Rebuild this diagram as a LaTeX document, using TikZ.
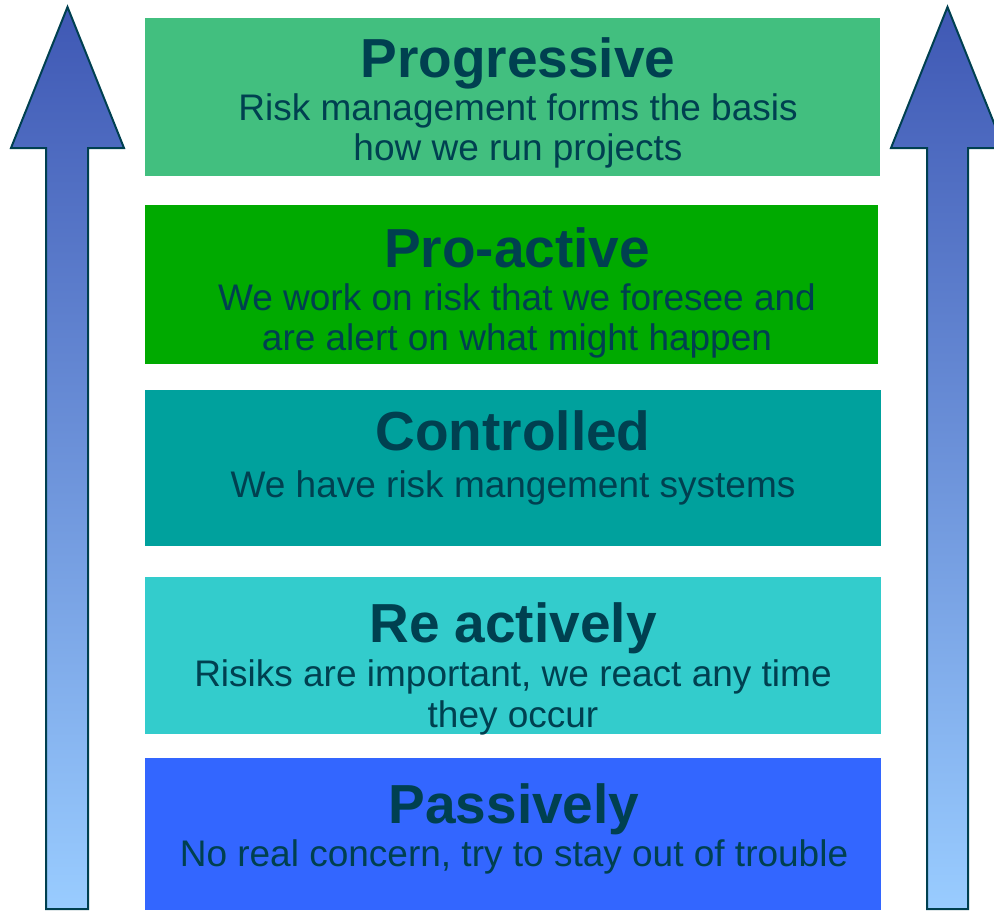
\documentclass[tikz,border=0pt]{standalone}
\usepackage{fontspec}
\setmainfont{Liberation Sans}
\definecolor{txt}{HTML}{004050}
\definecolor{cA}{HTML}{42BF7F}
\definecolor{cB}{HTML}{00AA00}
\definecolor{cC}{HTML}{00A19D}
\definecolor{cD}{HTML}{33CCCC}
\definecolor{cE}{HTML}{3366FF}
\definecolor{arTop}{HTML}{3F58B4}
\definecolor{arBot}{HTML}{99CCFF}
\tikzset{
  level/.style={draw=none, inner sep=0pt, outer sep=0pt},
  ttl/.style={anchor=base, inner sep=0pt, text=txt, font=\fontsize{55}{60}\selectfont\bfseries},
  dsc/.style={anchor=base, inner sep=0pt, text=txt, font=\fontsize{37}{41}\selectfont},
  uparrow/.style={draw=txt, line width=2pt, line join=miter, top color=arTop, bottom color=arBot}
}
\begin{document}
\begin{tikzpicture}[x=1pt,y=-1pt]
\useasboundingbox (0,0) rectangle (994,911);
% arrows
\path[uparrow] (67.5,7) -- (124,148) -- (88,148) -- (88,909) -- (46,909) -- (46,148) -- (11,148) -- cycle;
\path[uparrow] (947.5,7) -- (1004,148) -- (968,148) -- (968,909) -- (927,909) -- (927,148) -- (891,148) -- cycle;
% boxes
\fill[cA] (145,18) rectangle (880,176);
\fill[cB] (145,205) rectangle (878,364);
\fill[cC] (145,390) rectangle (881,546);
\fill[cD] (145,577) rectangle (881,734);
\fill[cE] (145,758) rectangle (881,910);
% texts
\node[ttl] (t1) at (518,77) {Progressive};
\node[dsc] (d1a) at (518,120) {Risk management forms the basis};
\node[dsc] (d1b) at (518,160) {how we run projects};
\node[ttl] (t2) at (517,267) {Pro-active};
\node[dsc] (d2a) at (517,310) {We work on risk that we foresee and};
\node[dsc] (d2b) at (517,350) {are alert on what might happen};
\node[ttl] (t3) at (513,450) {Controlled};
\node[dsc] (d3a) at (513,497) {We have risk mangement systems};
\node[ttl] (t4) at (513,642) {Re actively};
\node[dsc] (d4a) at (513,686) {Risiks are important, we react any time};
\node[dsc] (d4b) at (513,727) {they occur};
\node[ttl] (t5) at (514,823) {Passively};
\node[dsc] (d5a) at (514,866) {No real concern, try to stay out of trouble};
\end{tikzpicture}
\end{document}
